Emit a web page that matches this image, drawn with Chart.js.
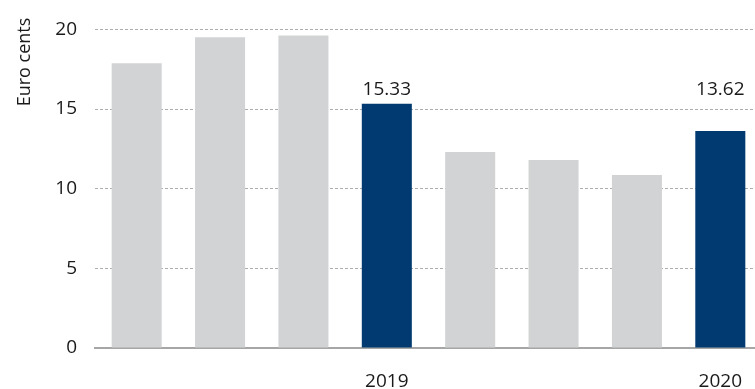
<!DOCTYPE html>
<html>
<head>
<meta charset="utf-8">
<script src="https://cdn.jsdelivr.net/npm/chart.js@4/dist/chart.umd.min.js"></script>
<style>
    html, body { margin: 0; padding: 0; background: #fff; overflow: hidden; }
    #wrap { width: 762px; height: 389px; }
</style>
</head>
<body>
<div id="wrap"><canvas id="cents" width="762" height="389"></canvas></div>
<script>
const categories = ['', '', '', '2019', '', '', '', '2020'];
const centsValues = [17.88, 19.5, 19.62, 15.33, 12.3, 11.8, 10.86, 13.62];
const highlighted = [false, false, false, true, false, false, false, true];
const yTicks = [0, 5, 10, 15, 20];

const FONT = '"Open Sans", sans-serif';
const TEXT = '#1a1a1a';
const GREY_BAR = '#d1d3d4';
const NAVY_BAR = '#003a70';

// value labels for the highlighted bars all sit on one level above the bars
const LABEL_LEVEL = 16.2;

const annotations = {
    id: 'annotations',
    afterDatasetsDraw(chart) {
        const ctx = chart.ctx;
        const yScale = chart.scales.y;
        const bars = chart.getDatasetMeta(0).data;
        ctx.save();
        ctx.fillStyle = TEXT;
        ctx.font = '19px ' + FONT;
        ctx.textAlign = 'center';
        ctx.textBaseline = 'middle';
        highlighted.forEach((on, i) => {
            if (!on) return;
            ctx.fillText(centsValues[i].toFixed(2), bars[i].x, yScale.getPixelForValue(LABEL_LEVEL));
        });

        // axis title, rotated, up at the top of the y axis
        ctx.font = '18px ' + FONT;
        ctx.translate(25, 62);
        ctx.rotate(-Math.PI / 2);
        ctx.fillText('Euro cents', 0, 0);
        ctx.restore();
    }
};

const ctx = document.getElementById('cents').getContext('2d');
new Chart(ctx, {
    type: 'bar',
    data: {
        labels: categories,
        datasets: [{
            data: centsValues,
            backgroundColor: highlighted.map(on => on ? NAVY_BAR : GREY_BAR),
            borderWidth: 0,
            categoryPercentage: 1,
            barPercentage: 0.6
        }]
    },
    options: {
        responsive: false,
        animation: false,
        layout: { padding: { top: 28, right: 0, bottom: 0, left: 0 } },
        plugins: {
            legend: { display: false },
            tooltip: { enabled: false }
        },
        scales: {
            x: {
                grid: { display: false },
                border: { display: true, color: '#a6a6a6', width: 2 },
                ticks: {
                    autoSkip: false,
                    maxRotation: 0,
                    padding: 14,
                    color: TEXT,
                    font: { family: FONT, size: 19 }
                },
                afterFit(scale) { scale.height = 41; }
            },
            y: {
                min: 0,
                max: 20,
                afterBuildTicks(scale) { scale.ticks = yTicks.map(v => ({ value: v })); },
                grid: {
                    drawTicks: false,
                    color: c => c.tick && c.tick.value === 0 ? 'rgba(0,0,0,0)' : '#adadad',
                    lineWidth: 1
                },
                border: { display: false, dash: [3, 2] },
                ticks: {
                    padding: 18,
                    color: TEXT,
                    font: { family: FONT, size: 19 }
                },
                afterFit(scale) { scale.width = 95; }
            }
        }
    },
    plugins: [annotations]
});
</script>
</body>
</html>
